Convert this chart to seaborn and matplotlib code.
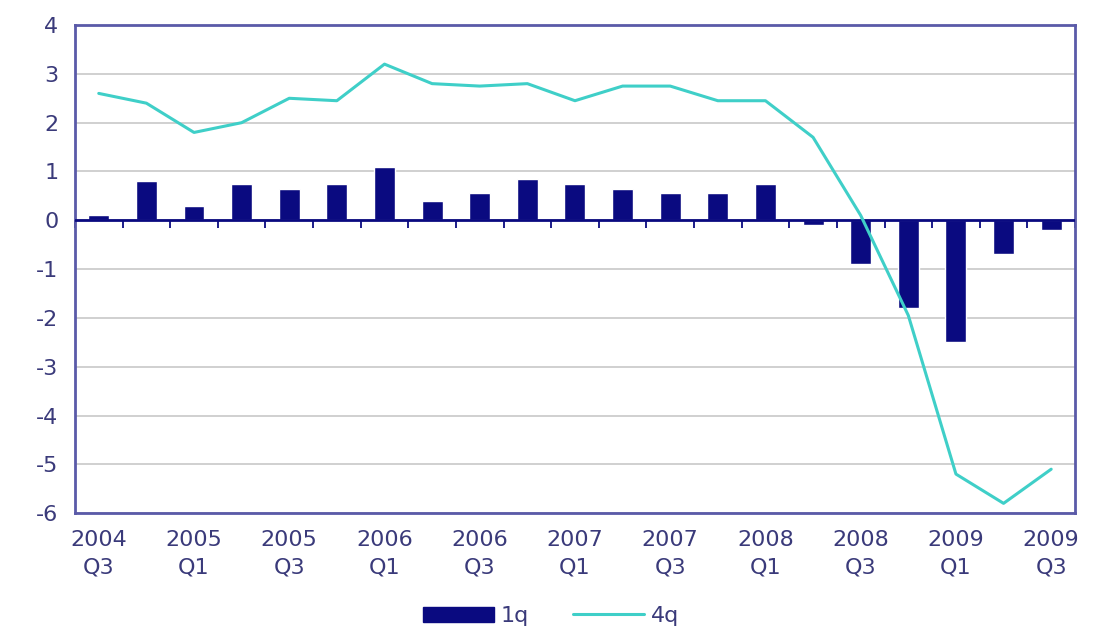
import numpy as np
import pandas as pd
import matplotlib
matplotlib.use("Agg")
import matplotlib.pyplot as plt
from matplotlib.patches import Patch
from matplotlib.lines import Line2D
import seaborn as sns

# -------------------------------
# Data
# -------------------------------
quarters = ["2004 Q3", "2004 Q4", "2005 Q1", "2005 Q2", "2005 Q3", "2005 Q4",
            "2006 Q1", "2006 Q2", "2006 Q3", "2006 Q4", "2007 Q1", "2007 Q2",
            "2007 Q3", "2007 Q4", "2008 Q1", "2008 Q2", "2008 Q3", "2008 Q4",
            "2009 Q1", "2009 Q2", "2009 Q3"]
growth_1q = [0.1, 0.8, 0.3, 0.75, 0.65, 0.75, 1.1, 0.4, 0.55, 0.85, 0.75,
             0.65, 0.55, 0.55, 0.75, -0.1, -0.9, -1.8, -2.5, -0.7, -0.2]
growth_4q = [2.6, 2.4, 1.8, 2.0, 2.5, 2.45, 3.2, 2.8, 2.75, 2.8, 2.45,
             2.75, 2.75, 2.45, 2.45, 1.7, 0.1, -1.95, -5.2, -5.8, -5.1]
y_ticks = [-6, -5, -4, -3, -2, -1, 0, 1, 2, 3, 4]

df = pd.DataFrame({"quarter": quarters, "1q": growth_1q, "4q": growth_4q})
df["pos"] = np.arange(len(df))

navy = "#0a0a80"
teal = "#3fcfc8"
frame = "#5a5aa8"
text_col = "#3a3a7a"

# -------------------------------
# Plot
# -------------------------------
sns.set_style("white")
plt.rcParams["font.family"] = ["DejaVu Sans"]

fig = plt.figure(figsize=(11.02, 6.43), dpi=100)
ax = fig.add_axes([0.068, 0.202, 0.9075, 0.759])

sns.barplot(data=df, x="quarter", y="1q", color=navy, width=0.44,
            saturation=1, ax=ax, zorder=3)
sns.lineplot(data=df, x="pos", y="4q", color=teal, linewidth=2.2,
             ax=ax, zorder=5)
ax.axhline(0, color=navy, linewidth=2, zorder=4)

ax.set_xlim(-0.5, len(df) - 0.5)
ax.set_ylim(-6, 4)
ax.set_yticks(y_ticks)
ax.set_yticklabels([str(v) for v in y_ticks])
ax.yaxis.grid(True, color="#c8c8c8", linewidth=1.2, zorder=0)
ax.set_axisbelow(True)

# x labels every second quarter, two lines
lab_pos = df["pos"][::2]
ax.set_xticks(lab_pos)
ax.set_xticklabels([q.replace(" ", "\n") for q in df["quarter"][::2]],
                   linespacing=1.5)
ax.tick_params(axis="x", length=0, pad=12, labelsize=16, labelcolor=text_col)
ax.tick_params(axis="y", length=6, width=1.3, color=frame, direction="out",
               labelsize=16, labelcolor=text_col, pad=6)
ax.set_xlabel("")
ax.set_ylabel("")

for s in ax.spines.values():
    s.set_visible(True)
    s.set_color(frame)
    s.set_linewidth(2)

# category-boundary ticks on the zero line
zero_ax = ax.secondary_xaxis(0.6)
zero_ax.set_xticks(np.arange(len(df) + 1) - 0.5)
zero_ax.tick_params(axis="x", length=6, width=1.3, color=navy,
                    direction="in", labelbottom=False, labeltop=False)
for s in zero_ax.spines.values():
    s.set_visible(False)

handles = [Patch(facecolor=navy, edgecolor=navy),
           Line2D([0], [0], color=teal, linewidth=2.2)]
fig.legend(handles, ["1q", "4q"], loc="lower center", ncol=2, frameon=False,
           bbox_to_anchor=(0.5, -0.005), fontsize=16, labelcolor=text_col,
           handlelength=3.2, handletextpad=0.3, columnspacing=2.0)

fig.savefig("out.png", dpi=100)
